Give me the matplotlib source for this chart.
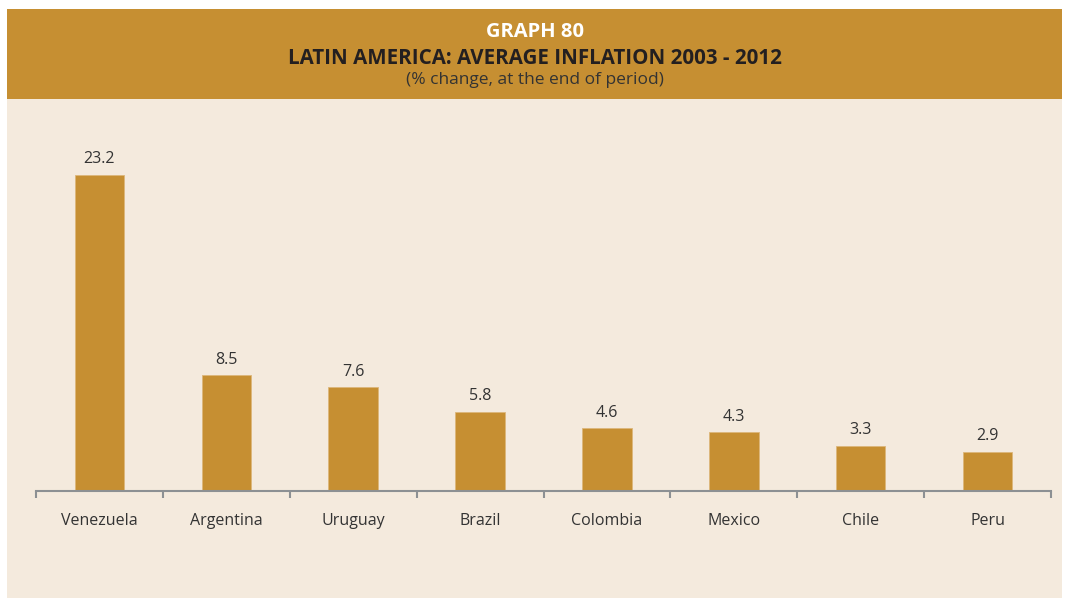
import matplotlib
matplotlib.use("Agg")
import matplotlib.pyplot as plt
from matplotlib.patches import Rectangle

countries = ["Venezuela", "Argentina", "Uruguay", "Brazil", "Colombia", "Mexico", "Chile", "Peru"]
inflation = [23.2, 8.5, 7.6, 5.8, 4.6, 4.3, 3.3, 2.9]

title_number = "GRAPH 80"
title_main = "LATIN AMERICA: AVERAGE INFLATION 2003 - 2012"
subtitle = "(% change, at the end of period)"

GOLD = "#C68F32"
CREAM = "#F4EADD"
TEXT = "#333333"
AXIS = "#8C9093"

plt.rcParams["font.family"] = ["Open Sans", "DejaVu Sans"]

W, H = 1069, 599
fig = plt.figure(figsize=(W / 100, H / 100), dpi=100)
fig.patch.set_facecolor("white")

# Header band and cream panel behind everything
fig.patches.append(Rectangle((7 / W, 1 - 99 / H), 1055 / W, 90 / H,
                             transform=fig.transFigure, facecolor=GOLD, edgecolor="none", zorder=-10))
fig.patches.append(Rectangle((7 / W, 1 - 598 / H), 1055 / W, 499 / H,
                             transform=fig.transFigure, facecolor=CREAM, edgecolor="none", zorder=-10))

fig.text(0.5, 1 - 32 / H, title_number, ha="center", va="center",
         color="white", fontsize=14.5, fontweight="bold")
fig.text(0.5, 1 - 58 / H, title_main, ha="center", va="center",
         color="#231F20", fontsize=14.8, fontweight="bold")
fig.text(0.5, 1 - 80 / H, subtitle, ha="center", va="center",
         color=TEXT, fontsize=12.5)

x0, x1 = 36, 1051
base = 491
ymax = 26
px_per_unit = 13.62
top = base - ymax * px_per_unit
ax = fig.add_axes([x0 / W, 1 - base / H, (x1 - x0) / W, (base - top) / H])
ax.set_facecolor("none")
ax.set_zorder(5)

pos = list(range(len(countries)))
ax.bar(pos, inflation, width=0.39, color=GOLD, edgecolor="#DDB77A", linewidth=0.6, zorder=2)
for p, v in zip(pos, inflation):
    ax.annotate(f"{v}", (p, v), xytext=(0, 5.5), textcoords="offset points",
                ha="center", va="bottom", fontsize=11.5, color=TEXT)

ax.set_xlim(-0.5, len(countries) - 0.5)
ax.set_ylim(0, ymax)
for s in ["top", "right", "left"]:
    ax.spines[s].set_visible(False)
ax.spines["bottom"].set_color(AXIS)
ax.spines["bottom"].set_linewidth(1.5)
ax.set_yticks([])
ax.set_xticks([p - 0.5 for p in range(len(countries) + 1)])
ax.set_xticklabels([])
ax.tick_params(axis="x", which="major", length=5, width=1.5, color=AXIS, direction="out")
ax.set_xticks(pos, minor=True)
ax.set_xticklabels(countries, minor=True)
ax.tick_params(axis="x", which="minor", length=0, pad=16, labelsize=11.5, labelcolor=TEXT)

fig.savefig("out.png", dpi=100, facecolor="white")
